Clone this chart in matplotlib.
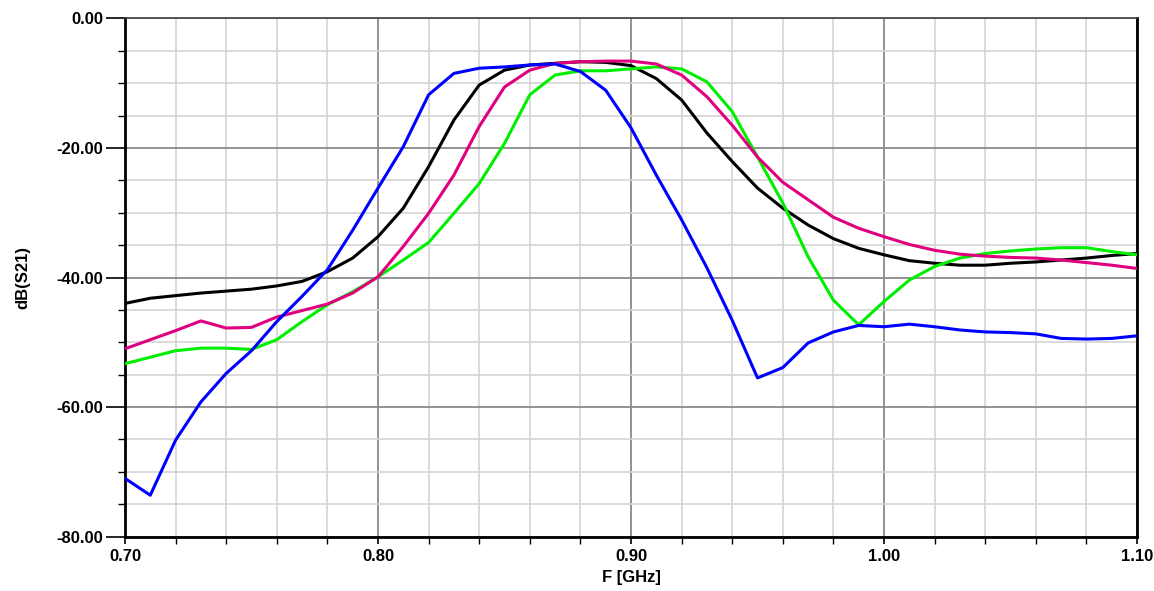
import numpy as np
import matplotlib
matplotlib.use('Agg')
from matplotlib import pyplot as plt
from matplotlib.ticker import MultipleLocator, FormatStrFormatter

plt.rcParams['font.family'] = ['Liberation Sans', 'DejaVu Sans']
plt.rcParams['axes.unicode_minus'] = False

# frequency points, 0.70 .. 1.10 GHz in 0.01 steps
freq = np.round(np.arange(0.70, 1.1001, 0.01), 2)

s21_blue = [-71.0, -73.6, -65.1, -59.2, -54.8, -51.3, -46.8, -42.9, -38.8, -32.7,
            -26.2, -19.8, -11.8, -8.5, -7.7, -7.5, -7.2, -7.05, -8.2, -11.1,
            -16.9, -24.2, -31.1, -38.5, -46.6, -55.5, -53.9, -50.1, -48.4, -47.4,
            -47.6, -47.2, -47.6, -48.1, -48.4, -48.5, -48.7, -49.4, -49.5, -49.4,
            -49.0]
s21_black = [-44.0, -43.2, -42.8, -42.4, -42.1, -41.8, -41.3, -40.6, -39.1, -37.0,
             -33.7, -29.3, -22.9, -15.7, -10.3, -8.0, -7.2, -6.95, -6.7, -6.8,
             -7.3, -9.3, -12.6, -17.7, -22.1, -26.2, -29.3, -31.9, -34.0, -35.5,
             -36.5, -37.4, -37.8, -38.1, -38.1, -37.8, -37.6, -37.3, -37.0, -36.6,
             -36.3]
s21_magenta = [-51.0, -49.6, -48.2, -46.7, -47.8, -47.7, -46.1, -45.1, -44.1, -42.4,
               -39.9, -35.2, -30.1, -24.2, -16.7, -10.6, -8.0, -6.95, -6.7, -6.6,
               -6.6, -7.05, -8.75, -12.1, -16.5, -21.4, -25.3, -28.0, -30.7, -32.4,
               -33.7, -34.9, -35.8, -36.4, -36.7, -36.9, -37.0, -37.3, -37.7, -38.1,
               -38.6]
s21_green = [-53.3, -52.3, -51.3, -50.9, -50.9, -51.1, -49.6, -46.8, -44.2, -42.2,
             -39.9, -37.3, -34.6, -30.1, -25.5, -19.3, -11.8, -8.75, -8.1, -8.1,
             -7.8, -7.5, -7.8, -9.8, -14.4, -21.4, -28.5, -36.8, -43.5, -47.3,
             -43.7, -40.4, -38.3, -37.0, -36.3, -35.9, -35.6, -35.4, -35.4, -36.0,
             -36.5]

fig = plt.figure(figsize=(11.54, 5.91), dpi=100)
ax = fig.add_axes([0.1083, 0.0919, 0.8770, 0.8771])

ax.plot(freq, s21_black, color='black', lw=2.2, zorder=3)
ax.plot(freq, s21_green, color='#00ee00', lw=2.2, zorder=3)
ax.plot(freq, s21_magenta, color='#e0007f', lw=2.2, zorder=3)
ax.plot(freq, s21_blue, color='#0000ff', lw=2.2, zorder=3)

ax.set_xlim(0.70, 1.10)
ax.set_ylim(-80, 0)
ax.xaxis.set_major_locator(MultipleLocator(0.1))
ax.xaxis.set_minor_locator(MultipleLocator(0.02))
ax.yaxis.set_major_locator(MultipleLocator(20))
ax.yaxis.set_minor_locator(MultipleLocator(5))
ax.xaxis.set_major_formatter(FormatStrFormatter('%.2f'))
ax.yaxis.set_major_formatter(FormatStrFormatter('%.2f'))

ax.grid(which='minor', color='#d4d4d4', lw=1.2)
ax.grid(which='major', color='#8a8a8a', lw=1.3)
ax.set_axisbelow(True)

ax.tick_params(axis='x', which='major', direction='out', length=5, width=1.2,
               colors='black', labelsize=12, pad=4)
ax.tick_params(axis='x', which='minor', direction='out', length=5, width=1.0, colors='black')
ax.tick_params(axis='y', which='major', direction='out', length=14, width=1.2,
               colors='black', labelsize=12, pad=1.5)
ax.tick_params(axis='y', which='minor', direction='out', length=5, width=1.0, colors='black')
for lab in ax.get_xticklabels() + ax.get_yticklabels():
    lab.set_fontweight('bold')

for side in ['left', 'bottom', 'right']:
    ax.spines[side].set_linewidth(2)
    ax.spines[side].set_color('black')
ax.spines['top'].set_linewidth(1.2)
ax.spines['top'].set_color('#404040')

ax.set_xlabel('F [GHz]', fontsize=12, fontweight='bold', labelpad=4)
ax.set_ylabel('dB(S21)', fontsize=12, fontweight='bold', labelpad=19)

fig.savefig('out.png', dpi=100)
